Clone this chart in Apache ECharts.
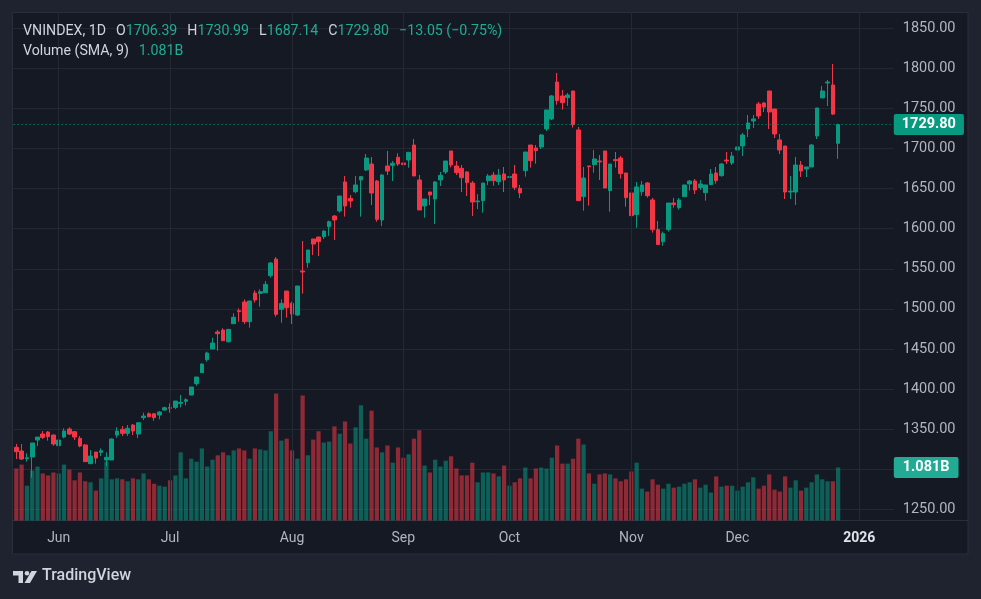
<!DOCTYPE html>
<html><head><meta charset="utf-8">
<script src="https://cdn.jsdelivr.net/npm/echarts@6/dist/echarts.min.js"></script>
<style>html,body{margin:0;padding:0;background:#1f2330;}#c{width:981px;height:599px;}</style>
</head><body><div id="c"></div>
<script>
// ---- categories: trading days shown, then empty future slots ----
const dates = [
'2025-05-21','2025-05-22','2025-05-23','2025-05-26','2025-05-27','2025-05-28','2025-05-29','2025-05-30',
'2025-06-02','2025-06-03','2025-06-04','2025-06-05','2025-06-06','2025-06-09','2025-06-10','2025-06-11','2025-06-12','2025-06-13','2025-06-16','2025-06-17','2025-06-18','2025-06-19','2025-06-20','2025-06-23','2025-06-24','2025-06-25','2025-06-26','2025-06-27','2025-06-30',
'2025-07-01','2025-07-02','2025-07-03','2025-07-04','2025-07-07','2025-07-08','2025-07-09','2025-07-10','2025-07-11','2025-07-14','2025-07-15','2025-07-16','2025-07-17','2025-07-18','2025-07-21','2025-07-22','2025-07-23','2025-07-24','2025-07-25','2025-07-28','2025-07-29','2025-07-30','2025-07-31',
'2025-08-01','2025-08-04','2025-08-05','2025-08-06','2025-08-07','2025-08-08','2025-08-11','2025-08-12','2025-08-13','2025-08-14','2025-08-15','2025-08-18','2025-08-19','2025-08-20','2025-08-21','2025-08-22','2025-08-25','2025-08-26','2025-08-27','2025-08-28','2025-08-29',
'2025-09-03','2025-09-04','2025-09-05','2025-09-08','2025-09-09','2025-09-10','2025-09-11','2025-09-12','2025-09-15','2025-09-16','2025-09-17','2025-09-18','2025-09-19','2025-09-22','2025-09-23','2025-09-24','2025-09-25','2025-09-26','2025-09-29','2025-09-30',
'2025-10-01','2025-10-02','2025-10-03','2025-10-06','2025-10-07','2025-10-08','2025-10-09','2025-10-10','2025-10-13','2025-10-14','2025-10-15','2025-10-16','2025-10-17','2025-10-20','2025-10-21','2025-10-22','2025-10-23','2025-10-24','2025-10-27','2025-10-28','2025-10-29','2025-10-30','2025-10-31',
'2025-11-03','2025-11-04','2025-11-05','2025-11-06','2025-11-07','2025-11-10','2025-11-11','2025-11-12','2025-11-13','2025-11-14','2025-11-17','2025-11-18','2025-11-19','2025-11-20','2025-11-21','2025-11-24','2025-11-25','2025-11-26','2025-11-27','2025-11-28',
'2025-12-01','2025-12-02','2025-12-03','2025-12-04','2025-12-05','2025-12-08','2025-12-09','2025-12-10','2025-12-11','2025-12-12','2025-12-15','2025-12-16','2025-12-17','2025-12-18','2025-12-19','2025-12-22','2025-12-23','2025-12-24','2025-12-25','2025-12-26'
];
const futureDates = ['2025-12-29','2025-12-30','2025-12-31','2026-01-02','2026-01-05','2026-01-06','2026-01-07','2026-01-08','2026-01-09','2026-01-12'];
const monthNames = ['Jan','Feb','Mar','Apr','May','Jun','Jul','Aug','Sep','Oct','Nov','Dec'];

// ---- OHLC (VNINDEX, daily) ----
const opens = [1327.3,1322.7,1313.1,1315.2,1336.4,1343.9,1346.4,1342.6,1329.3,1340.1,1350.1,1346.8,1338.5,1330.2,1306.9,1321.4,1321.0,1311.5,1311.5,1342.6,1349.7,1344.7,1355.1,1343.9,1364.3,1369.2,1369.2,1367.6,1373.8,1377.1,1377.1,1382.1,1384.6,1392.5,1406.7,1420.4,1436.6,1449.9,1471.1,1473.6,1459.0,1481.5,1497.7,1508.5,1484.0,1519.7,1519.3,1520.1,1541.4,1562.1,1499.4,1522.2,1506.8,1492.3,1547.2,1557.6,1587.1,1589.6,1590.0,1602.5,1615.8,1622.0,1658.2,1637.8,1646.1,1660.7,1673.2,1680.6,1659.4,1610.8,1678.2,1679.0,1689.0,1681.9,1685.6,1704.3,1660.7,1628.3,1645.7,1637.0,1660.7,1670.7,1696.9,1678.2,1675.2,1670.7,1656.9,1633.6,1634.9,1659.9,1666.9,1658.6,1668.2,1663.7,1668.2,1650.3,1672.3,1704.3,1700.6,1701.9,1724.3,1736.8,1782.9,1765.5,1763.4,1771.7,1723.1,1640.0,1678.2,1679.8,1684.4,1696.9,1647.4,1686.1,1688.1,1669.4,1644.5,1617.5,1646.1,1657.0,1635.8,1598.8,1583.8,1598.8,1632.0,1626.2,1639.9,1655.7,1659.4,1651.1,1644.9,1654.9,1669.4,1666.1,1685.6,1681.9,1698.1,1703.1,1724.3,1734.3,1755.5,1756.7,1771.7,1749.2,1710.6,1703.1,1645.7,1645.7,1679.4,1674.4,1676.9,1715.6,1763.0,1781.7,1779.2,1706.39];
const highs = [1331.4,1331.4,1319.8,1332.7,1340.1,1347.6,1347.6,1343.5,1336.4,1351.0,1352.2,1347.6,1341.4,1331.4,1323.9,1321.4,1326.0,1321.0,1338.5,1352.2,1353.9,1355.1,1356.4,1358.0,1370.5,1370.9,1369.2,1372.6,1378.0,1382.1,1385.0,1392.5,1388.4,1402.5,1415.0,1432.0,1446.6,1464.0,1473.6,1475.7,1474.4,1494.4,1500.6,1511.8,1509.8,1523.1,1524.3,1534.7,1558.4,1564.6,1511.8,1522.2,1508.9,1528.5,1584.6,1573.4,1587.1,1589.6,1598.0,1610.0,1617.0,1640.7,1665.7,1642.0,1665.7,1664.9,1693.1,1689.4,1660.7,1668.2,1696.9,1684.4,1694.0,1685.6,1695.2,1711.8,1666.9,1637.0,1645.7,1659.4,1670.7,1684.4,1696.9,1684.4,1679.4,1671.9,1659.4,1643.2,1656.9,1668.2,1670.7,1674.4,1676.9,1670.7,1679.4,1654.5,1695.6,1704.3,1704.3,1718.1,1748.0,1766.7,1794.1,1772.9,1769.2,1771.7,1726.8,1676.9,1678.2,1698.1,1691.9,1696.9,1680.6,1695.6,1690.6,1669.4,1652.0,1658.2,1659.4,1658.2,1638.3,1609.6,1596.3,1632.0,1638.3,1638.3,1654.5,1660.7,1661.9,1660.7,1654.5,1674.4,1676.9,1681.9,1695.6,1695.6,1713.1,1719.3,1741.8,1741.8,1758.0,1758.0,1771.7,1749.2,1718.1,1703.1,1665.7,1689.4,1684.4,1676.9,1705.6,1750.5,1777.9,1785.4,1805.4,1730.99];
const lows = [1312.7,1311.5,1309.4,1289.4,1328.9,1337.7,1335.6,1329.3,1323.1,1338.5,1342.6,1336.4,1327.3,1309.4,1306.9,1306.9,1316.4,1304.0,1311.5,1339.3,1341.4,1341.4,1342.6,1338.9,1361.3,1364.7,1360.5,1362.2,1373.0,1370.5,1375.0,1377.1,1379.6,1392.5,1404.2,1420.0,1434.1,1449.9,1447.8,1460.3,1457.8,1481.5,1484.0,1481.1,1476.5,1507.7,1502.7,1520.1,1538.9,1490.2,1482.7,1489.0,1481.1,1491.0,1518.9,1551.3,1567.1,1565.9,1587.1,1591.0,1585.9,1620.0,1615.0,1626.2,1644.1,1615.0,1671.9,1629.5,1608.7,1603.3,1666.9,1659.4,1678.2,1671.0,1676.0,1665.7,1623.3,1613.7,1629.5,1605.8,1653.2,1668.2,1676.5,1666.9,1645.7,1640.7,1615.8,1624.5,1620.0,1654.5,1653.6,1654.5,1645.7,1655.7,1648.2,1638.2,1664.9,1676.1,1681.0,1699.4,1721.8,1735.5,1754.6,1748.4,1753.0,1726.0,1634.9,1622.4,1628.7,1669.8,1660.7,1650.7,1621.2,1676.1,1662.3,1627.4,1616.2,1601.2,1641.1,1638.7,1595.0,1580.1,1578.8,1596.3,1626.2,1623.7,1639.9,1647.4,1643.2,1648.2,1634.9,1654.9,1656.1,1664.9,1680.6,1679.4,1690.6,1690.6,1714.3,1725.5,1736.8,1745.5,1724.3,1713.1,1693.1,1637.0,1637.0,1629.5,1664.4,1664.4,1676.9,1711.8,1763.0,1753.0,1741.8,1687.14];
const closes = [1321.8,1312.7,1314.4,1332.7,1340.1,1339.7,1340.6,1331.4,1336.4,1347.6,1343.9,1340.1,1328.9,1309.4,1316.4,1314.0,1323.1,1314.8,1337.6,1347.6,1344.7,1351.0,1347.6,1358.0,1366.3,1365.5,1364.3,1371.3,1376.7,1375.9,1385.0,1383.4,1386.7,1402.5,1415.0,1431.2,1444.9,1457.4,1469.0,1460.3,1474.4,1489.4,1496.5,1484.0,1509.8,1511.0,1521.4,1530.5,1557.1,1493.1,1506.8,1501.4,1493.5,1528.5,1545.9,1573.4,1580.8,1583.8,1597.0,1608.7,1610.8,1640.7,1628.3,1634.5,1654.5,1664.9,1688.1,1644.5,1611.6,1666.9,1671.9,1681.5,1680.6,1679.8,1695.2,1665.7,1623.3,1637.0,1642.0,1658.2,1666.5,1684.4,1679.4,1669.8,1663.6,1657.4,1633.2,1634.5,1656.9,1665.7,1659.9,1666.9,1660.7,1664.9,1651.5,1644.5,1695.6,1684.8,1697.3,1716.8,1748.0,1765.5,1759.6,1757.1,1766.7,1729.7,1634.9,1663.2,1677.3,1686.9,1683.2,1650.7,1680.6,1684.8,1668.6,1638.7,1616.2,1652.0,1654.5,1641.1,1598.8,1580.1,1593.8,1632.0,1630.0,1635.8,1654.5,1659.4,1648.2,1655.7,1654.5,1668.2,1659.9,1680.6,1684.4,1690.6,1701.9,1716.8,1731.8,1736.8,1740.5,1751.7,1745.5,1718.1,1698.1,1645.7,1646.9,1679.4,1671.9,1676.9,1704.3,1750.5,1771.7,1782.9,1742.85,1729.80];
// ---- volume, billions of shares ----
const volumes = [1.06,1.14,0.71,1.02,1.10,0.96,0.92,0.98,0.96,1.14,1.04,0.82,0.98,0.80,0.78,0.61,0.86,1.20,0.84,0.86,0.84,0.80,0.86,0.84,0.96,0.84,0.75,0.71,0.69,0.82,0.92,1.39,0.86,1.26,1.20,1.47,1.10,1.24,1.33,1.39,1.33,1.43,1.47,1.43,1.26,1.47,1.45,1.43,1.82,2.59,1.63,1.67,1.43,1.26,2.55,1.33,1.65,1.82,1.59,1.61,1.92,1.77,2.02,1.57,1.90,2.35,1.67,2.24,1.49,1.39,1.53,1.18,1.49,1.28,1.35,1.67,1.84,1.12,0.98,1.24,1.10,1.22,1.31,1.06,0.92,0.92,1.18,0.78,0.98,0.98,0.96,0.90,1.12,0.71,0.78,0.86,1.08,0.86,1.06,1.08,1.06,1.28,1.53,1.16,1.16,1.26,1.67,1.55,0.96,0.75,0.94,0.96,0.94,0.86,0.80,0.84,1.00,1.18,0.65,0.59,0.84,0.73,0.65,0.75,0.67,0.69,0.75,0.78,0.84,0.67,0.73,0.57,0.90,0.69,0.71,0.71,0.61,0.69,0.78,0.88,0.65,0.71,0.94,0.63,0.59,0.90,0.67,0.82,0.61,0.67,0.78,0.94,0.84,0.80,0.80,1.081];
// ---- price scale ticks ----
const priceMin = 1250, priceMax = 1850, priceStep = 50;

const UP = '#089981', DOWN = '#f23645';
const UP_V = 'rgba(8,153,129,0.55)', DOWN_V = 'rgba(242,54,69,0.55)';
const TXT = '#d1d4dc', AXT = '#b2b5be', GRID = '#242833', VAL = '#22ab94';
const FONT = 'Roboto, "Noto Sans", sans-serif';
const HF = 14.2; // header font size

const cats = dates.concat(futureDates);
const candleData = opens.map((o, i) => [o, closes[i], lows[i], highs[i]]);
const volData = volumes.map((v, i) => ({
  value: v,
  itemStyle: { color: closes[i] >= opens[i] ? UP_V : DOWN_V }
}));
const monthStart = cats.map((d, i) => i > 0 && d.slice(0, 7) !== cats[i - 1].slice(0, 7));
const monthLines = cats.filter((d, i) => monthStart[i]).map(d => ({ xAxis: d }));

const n = opens.length;
const lastO = opens[n-1], lastH = highs[n-1], lastL = lows[n-1], lastC = closes[n-1];
const chg = lastC - closes[n-2];
const chgPct = chg / closes[n-2] * 100;
const minus = '\u2212';
const fmtS = v => (v < 0 ? minus : '+') + Math.abs(v).toFixed(2);
const lastVol = volumes[n-1];

const richH = {
  a: { fill: TXT, fontSize: HF, fontFamily: FONT },
  g: { fill: TXT, fontSize: HF, fontFamily: FONT, padding: [0, 0, 0, 10] },
  b: { fill: VAL, fontSize: HF, fontFamily: FONT },
  c: { fill: VAL, fontSize: HF, fontFamily: FONT, padding: [0, 0, 0, 10] }
};

// layout
const L = 13.65, R = 981 - 893.8;
const chart = echarts.init(document.getElementById('c'));
chart.setOption({
  animation: false,
  backgroundColor: '#1f2330',
  textStyle: { fontFamily: FONT },
  graphic: [
    { type: 'rect', z: -10, silent: true, shape: { x: 12.5, y: 12.5, width: 955.5, height: 541.5 },
      style: { fill: '#151924', stroke: '#2a2e39', lineWidth: 1 } },
    { type: 'line', z: -9, silent: true, shape: { x1: 12.5, y1: 520.5, x2: 968, y2: 520.5 },
      style: { stroke: '#2a2e39', lineWidth: 1 } },
    { type: 'text', left: 23, top: 24.5, z: 20, silent: true,
      style: {
        text: '{a|VNINDEX, 1D}{g|O}{b|' + lastO.toFixed(2) + '}{g|H}{b|' + lastH.toFixed(2) + '}{g|L}{b|' + lastL.toFixed(2) + '}{g|C}{b|' + lastC.toFixed(2) + '}{c|' + fmtS(chg) + ' (' + fmtS(chgPct) + '%)}',
        font: HF + 'px ' + FONT, rich: richH
      } },
    { type: 'text', left: 23, top: 44.5, z: 20, silent: true,
      style: {
        text: '{a|Volume (SMA, 9)}{c|' + lastVol.toFixed(3) + 'B}',
        font: HF + 'px ' + FONT, rich: richH
      } },
    // TradingView logo
    { type: 'group', left: 13, top: 571, silent: true, children: [
      { type: 'polygon', shape: { points: [[0,0],[10,0],[10,12],[5.5,12],[5.5,4.5],[0,4.5]] }, style: { fill: TXT } },
      { type: 'circle', shape: { cx: 14, cy: 2.3, r: 2.3 }, style: { fill: TXT } },
      { type: 'polygon', shape: { points: [[18.5,0],[24,0],[17,12],[11.5,12]] }, style: { fill: TXT } }
    ] },
    { type: 'text', left: 42, top: 568, silent: true,
      style: { text: 'TradingView', fill: TXT, font: '500 16px ' + FONT } }
  ],
  grid: [
    { left: L, right: R, top: 28.2, bottom: 599 - 509.3 },
    { left: L, right: R, top: 12.5, bottom: 599 - 520.5 }
  ],
  xAxis: [
    { type: 'category', gridIndex: 0, data: cats, boundaryGap: true, show: false },
    { type: 'category', gridIndex: 1, data: cats, boundaryGap: true,
      axisLine: { show: false }, axisTick: { show: false }, splitLine: { show: false },
      axisLabel: {
        interval: (i) => monthStart[i],
        margin: 11, color: AXT, fontSize: 14, fontFamily: FONT,
        formatter: (v) => {
          const m = parseInt(v.slice(5, 7), 10);
          return m === 1 ? '{y|' + v.slice(0, 4) + '}' : monthNames[m - 1];
        },
        rich: { y: { color: '#e0e3eb', fontWeight: 'bold', fontSize: 14, fontFamily: FONT } }
      } }
  ],
  yAxis: [
    { type: 'value', gridIndex: 0, position: 'right', min: priceMin, max: priceMax, interval: priceStep,
      axisLine: { show: false }, axisTick: { show: false },
      axisLabel: { color: AXT, fontSize: 14.5, margin: 9, fontFamily: FONT, lineHeight: 18, verticalAlign: 'middle', padding: [3, 0, 0, 0], formatter: v => v.toFixed(2) },
      splitLine: { lineStyle: { color: GRID, width: 1 } } },
    { type: 'value', gridIndex: 1, min: 0, max: (520.5 - 12.5) / 49.03, show: false, splitLine: { show: false } }
  ],
  series: [
    { type: 'bar', xAxisIndex: 1, yAxisIndex: 1, data: volData, barWidth: '80%', z: 1, silent: true,
      markLine: { silent: true, symbol: 'none', animation: false,
        data: [
          ...monthLines.map(m => Object.assign({}, m, { lineStyle: { color: GRID, type: 'solid', width: 1 }, label: { show: false } })),
          { yAxis: lastVol, lineStyle: { color: 'rgba(0,0,0,0)', width: 1 },
            label: { show: true, position: 'end', distance: 0, formatter: lastVol.toFixed(3) + 'B',
              backgroundColor: VAL, color: '#ffffff', fontSize: 14.5, fontWeight: 'bold', fontFamily: FONT,
              padding: [4, 9, 2, 9], borderRadius: 2 } }
        ] } },
    { type: 'candlestick', xAxisIndex: 0, yAxisIndex: 0, data: candleData, barWidth: '78%', z: 3, silent: true,
      itemStyle: { color: UP, color0: DOWN, borderColor: UP, borderColor0: DOWN, borderWidth: 1 },
      markLine: { silent: true, symbol: 'none', animation: false,
        data: [ { yAxis: lastC,
          lineStyle: { color: UP, type: [1, 3], width: 1 },
          label: { show: true, position: 'end', distance: 0, formatter: lastC.toFixed(2),
            backgroundColor: UP, color: '#ffffff', fontSize: 14.5, fontWeight: 'bold', fontFamily: FONT,
            padding: [4, 8, 2, 8], borderRadius: 2 } } ] } }
  ]
});
</script></body></html>
